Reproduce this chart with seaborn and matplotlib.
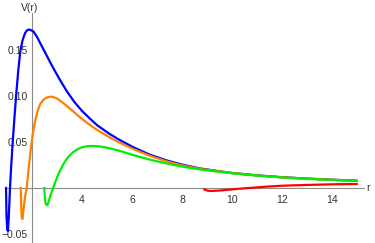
import matplotlib
matplotlib.use("Agg")
import matplotlib.pyplot as plt
from matplotlib.ticker import MultipleLocator, FixedLocator
import seaborn as sns
import pandas as pd

# values
blue_r = [0.96, 0.98, 1.01, 1.04, 1.07, 1.12, 1.17, 1.23, 1.30, 1.37, 1.45, 1.53, 1.62, 1.72,
          1.80, 1.89, 2.05, 2.20, 2.35, 2.60, 2.85, 3.10, 3.40, 3.70, 4.00, 4.30, 4.60, 5.10,
          5.50, 6.05, 6.70, 7.40, 8.05, 8.70, 9.90, 11.0, 12.0, 13.0, 14.0, 15.0]
blue_v = [0.0, -0.030, -0.046, -0.047, -0.032, 0.0, 0.024, 0.050, 0.077, 0.102, 0.127, 0.148,
          0.160, 0.168, 0.171, 0.172, 0.170, 0.164, 0.156, 0.143, 0.130, 0.118, 0.1045, 0.093,
          0.0835, 0.0755, 0.068, 0.0585, 0.052, 0.044, 0.036, 0.0295, 0.0248, 0.021, 0.0163,
          0.0134, 0.0114, 0.0099, 0.0087, 0.0076]

orange_r = [1.55, 1.57, 1.59, 1.62, 1.66, 1.72, 1.79, 1.87, 1.95, 2.03, 2.12, 2.22, 2.33, 2.47,
            2.62, 2.79, 3.00, 3.25, 3.60, 3.92, 4.25, 4.59, 5.12, 5.50, 6.05, 6.70, 7.40, 8.05,
            8.72, 10.0, 11.0, 12.0, 13.0, 14.0, 15.0]
orange_v = [0.0, -0.022, -0.033, -0.034, -0.024, -0.010, 0.0, 0.022, 0.042, 0.058, 0.072,
            0.083, 0.091, 0.096, 0.0983, 0.099, 0.097, 0.092, 0.084, 0.0765, 0.0695, 0.063,
            0.0545, 0.049, 0.042, 0.0348, 0.0285, 0.0240, 0.0205, 0.0159, 0.0133, 0.0113,
            0.0098, 0.0086, 0.0075]

green_r = [2.49, 2.51, 2.54, 2.59, 2.63, 2.70, 2.78, 2.85, 2.95, 3.10, 3.25, 3.45, 3.65, 3.85,
           4.05, 4.25, 4.45, 4.75, 5.12, 5.55, 6.05, 6.70, 7.39, 8.05, 9.00, 10.05, 11.0,
           12.05, 13.0, 14.05, 15.0]
green_v = [0.0, -0.010, -0.017, -0.019, -0.018, -0.012, -0.005, 0.0, 0.0075, 0.0175, 0.0255,
           0.0335, 0.0388, 0.0423, 0.0443, 0.0452, 0.0454, 0.0447, 0.0428, 0.0397, 0.0354,
           0.0306, 0.0263, 0.0227, 0.0188, 0.0156, 0.0132, 0.0110, 0.0096, 0.0084, 0.0073]

red_r = [8.88, 9.00, 9.12, 9.50, 10.05, 10.45, 10.85, 11.4, 12.05, 13.0, 14.05, 15.0]
red_v = [-0.0017, -0.0030, -0.0036, -0.0031, -0.0017, -0.0008, 0.0, 0.0012, 0.0022, 0.0030,
         0.0037, 0.0040]

curve_names = ["blue", "orange", "green", "red"]
curve_colors = ["#0000ff", "#ff8000", "#00ee00", "#ff0000"]

frames = []
for name, r, v in zip(curve_names, [blue_r, orange_r, green_r, red_r],
                      [blue_v, orange_v, green_v, red_v]):
    frames.append(pd.DataFrame({"r": r, "V": v, "curve": name}))
df = pd.concat(frames, ignore_index=True)

sns.set_style("white")
plt.rcParams["font.family"] = ["Liberation Sans", "DejaVu Sans"]

fig = plt.figure(figsize=(3.75, 2.43), dpi=100)
ax = fig.add_axes([0, 0, 1, 1])

sns.lineplot(data=df, x="r", y="V", hue="curve", palette=dict(zip(curve_names, curve_colors)),
             sort=False, estimator=None, linewidth=1.6, legend=False, ax=ax, zorder=3)

ax.set_xlim(0.72, 15.72)
ax.set_ylim(-0.0601, 0.204)

axis_col = "#8a8a8a"
text_col = "#333333"
for s in ["top", "right"]:
    ax.spines[s].set_visible(False)
ax.spines["left"].set_position(("data", 2))
ax.spines["bottom"].set_position(("data", 0))
ax.spines["left"].set_bounds(-0.0601, 0.19)
ax.spines["bottom"].set_bounds(0.96, 15.28)
for s in ["left", "bottom"]:
    ax.spines[s].set_color(axis_col)
    ax.spines[s].set_linewidth(0.8)
    ax.spines[s].set_zorder(1)

ax.xaxis.set_major_locator(FixedLocator([4, 6, 8, 10, 12, 14]))
ax.xaxis.set_minor_locator(MultipleLocator(0.5))
ax.yaxis.set_major_locator(FixedLocator([-0.05, 0.05, 0.10, 0.15]))
ax.yaxis.set_minor_locator(MultipleLocator(0.01))
ax.set_yticklabels(["\u22120.05", "0.05", "0.10", "0.15"])
ax.tick_params(axis="x", which="major", pad=5)
ax.tick_params(axis="y", which="major", pad=3)
ax.tick_params(axis="both", which="major", direction="in", length=4, width=0.7,
               color=axis_col, labelsize=7.5, labelcolor=text_col)
ax.tick_params(axis="both", which="minor", direction="in", length=2, width=0.6,
               color=axis_col)
ax.set_xlabel("")
ax.set_ylabel("")

ax.text(15.36, 0, "r", ha="left", va="center", fontsize=7.5, color=text_col)
ax.text(1.92, 0.19, "V(r)", ha="center", va="bottom", fontsize=7.5, color=text_col)

fig.savefig("out.png", dpi=100)
